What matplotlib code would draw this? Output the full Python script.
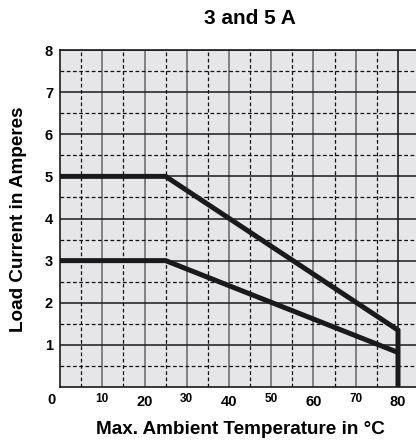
import matplotlib
matplotlib.use("Agg")
import matplotlib.pyplot as plt

# Data
temp_5a = [0, 25, 80, 80]
curr_5a = [5, 5, 1.35, 0]
temp_3a = [0, 25, 80]
curr_3a = [3, 3, 0.82]

y_ticks = [1, 2, 3, 4, 5, 6, 7, 8]
x_major = [20, 40, 60, 80]
x_minor = [10, 30, 50, 70]

plt.rcParams['font.family'] = ['Liberation Sans', 'DejaVu Sans']
plt.rcParams['font.weight'] = 'bold'

fig = plt.figure(figsize=(4.16, 4.43), dpi=100)
ax = fig.add_axes([60/416, 56/443, 356/416, 337/443])
ax.set_facecolor('#e6e6e8')
xmax = 356/42.25*10
ax.set_xlim(0, xmax)
ax.set_ylim(0, 8)

# grid
for x in range(10, 90, 10):
    ax.axvline(x, color='#111111' if x == 80 else '#666666', lw=1.1, zorder=1)
for x in range(5, 90, 10):
    ax.axvline(x, color='#111111', lw=0.9, ls=(0, (3, 2)), zorder=1)
for y in range(1, 9):
    ax.axhline(y, color='#1a1a1a', lw=1.1, zorder=1)
for y in [0.5 + i for i in range(8)]:
    ax.axhline(y, color='#111111', lw=0.9, ls=(0, (3, 2)), zorder=1)

ax.plot(temp_5a, curr_5a, color='#1a1a1a', lw=3.6, solid_joinstyle='miter', solid_capstyle='butt', zorder=3, clip_on=False)
ax.plot(temp_3a, curr_3a, color='#1a1a1a', lw=3.6, solid_joinstyle='miter', solid_capstyle='butt', zorder=3)

for s in ['right']:
    ax.spines[s].set_visible(False)
for s in ['left', 'bottom', 'top']:
    ax.spines[s].set_linewidth(1.2)
    ax.spines[s].set_color('#1a1a1a')

ax.set_yticks(y_ticks)
ax.set_yticklabels([str(v) for v in y_ticks], fontsize=10.5, fontweight='bold')
ax.tick_params(axis='y', length=0, pad=5)

ax.set_xticks(x_major)
ax.set_xticklabels([str(v) for v in x_major], fontsize=10.5, fontweight='bold')
ax.set_xticks(x_minor, minor=True)
ax.set_xticklabels([str(v) for v in x_minor], minor=True, fontsize=8.5, fontweight='bold')
ax.tick_params(axis='x', which='major', length=0, pad=6)
ax.tick_params(axis='x', which='minor', length=0, pad=4)

fig.text(51/416, 1 - 400.5/443, '0', fontsize=10.5, fontweight='bold', ha='center', va='center')

fig.text(250/416, 1 - 19/443, '3 and 5 A', fontsize=15, fontweight='bold', ha='center', va='center')
fig.text(240/416, 1 - 430/443, 'Max. Ambient Temperature in °C', fontsize=13.6, fontweight='bold', ha='center', va='center')
fig.text(18.5/416, 1 - 219.5/443, 'Load Current in Amperes', fontsize=13.6, fontweight='bold', ha='center', va='center', rotation=90)

fig.savefig('out.png', dpi=100)
